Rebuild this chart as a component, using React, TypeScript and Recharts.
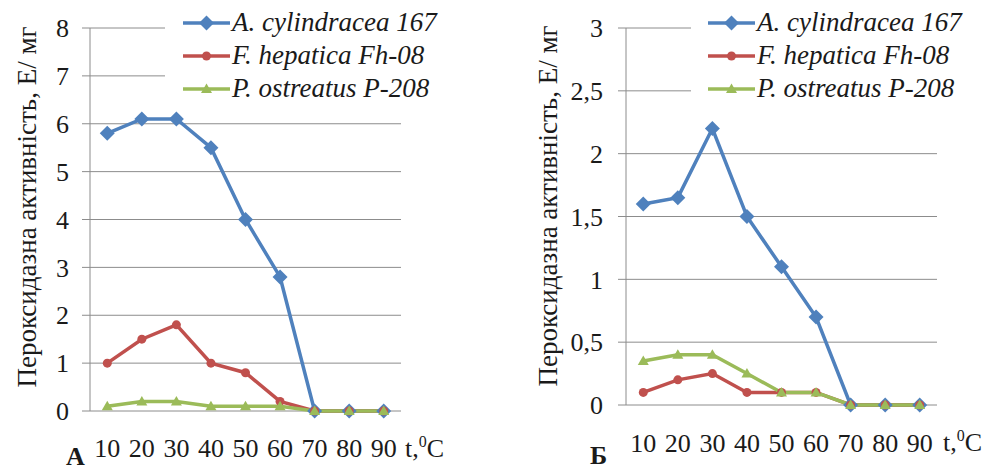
import React from 'react';
import { LineChart, Line, XAxis, YAxis, CartesianGrid } from 'recharts';

const temps = [10, 20, 30, 40, 50, 60, 70, 80, 90];
const tempEdges = [5, 15, 25, 35, 45, 55, 65, 75, 85, 95];
const seriesNames = ['A. cylindracea 167', 'F. hepatica Fh-08', 'P. ostreatus P-208'];

// chart A
const aCylA = [5.8, 6.1, 6.1, 5.5, 4.0, 2.8, 0, 0, 0];
const fHepA = [1.0, 1.5, 1.8, 1.0, 0.8, 0.2, 0, 0, 0];
const pOstA = [0.1, 0.2, 0.2, 0.1, 0.1, 0.1, 0, 0, 0];
const yTicksA = [0, 1, 2, 3, 4, 5, 6, 7, 8];

// chart Б
const aCylB = [1.6, 1.65, 2.2, 1.5, 1.1, 0.7, 0, 0, 0];
const fHepB = [0.1, 0.2, 0.25, 0.1, 0.1, 0.1, 0, 0, 0];
const pOstB = [0.35, 0.4, 0.4, 0.25, 0.1, 0.1, 0, 0, 0];
const yTicksB = [0, 0.5, 1, 1.5, 2, 2.5, 3];

const yTitle = 'Пероксидазна активність, Е/ мг';

const BLUE = '#4F81BD';
const RED = '#C0504D';
const GREEN = '#9BBB59';
const GRID = '#8c8c8c';
const INK = '#1a1a1a';
const FONT = '"Liberation Serif", Tinos, "Times New Roman", "DejaVu Serif", serif';

const rowsA = temps.map((t, i) => ({ t, a: aCylA[i], f: fHepA[i], p: pOstA[i] }));
const rowsB = temps.map((t, i) => ({ t, a: aCylB[i], f: fHepB[i], p: pOstB[i] }));

const diamond = (cx: number, cy: number, s = 7.5) =>
  `M${cx},${cy - s}L${cx + s},${cy}L${cx},${cy + s}L${cx - s},${cy}Z`;
const triangle = (cx: number, cy: number) =>
  `M${cx},${cy - 5.5}L${cx + 5.5},${cy + 4}L${cx - 5.5},${cy + 4}Z`;

const DiamondDot = (props: any) => (
  <path key={`d-${props.index}`} d={diamond(props.cx, props.cy)} fill={BLUE} />
);
const CircleDot = (props: any) => (
  <circle key={`c-${props.index}`} cx={props.cx} cy={props.cy} r={4.5} fill={RED} />
);
const TriangleDot = (props: any) => (
  <path key={`t-${props.index}`} d={triangle(props.cx, props.cy)} fill={GREEN} />
);

const markers = [DiamondDot, CircleDot, TriangleDot];
const colors = [BLUE, RED, GREEN];
const keys = ['a', 'f', 'p'];

function LegendBox({ left, width, pad, height }: { left: number; width: number; pad: number; height: number }) {
  return (
    <div
      style={{
        position: 'absolute',
        left,
        top: 0,
        width,
        height,
        background: '#fff',
        paddingLeft: pad,
        paddingTop: 6,
        boxSizing: 'border-box',
      }}
    >
      {seriesNames.map((name, i) => {
        const M = markers[i];
        return (
          <div key={name} style={{ display: 'flex', alignItems: 'center', height: 33 }}>
            <svg width={47} height={20} style={{ flex: 'none' }}>
              <line x1={0} y1={10} x2={47} y2={10} stroke={colors[i]} strokeWidth={3.5} />
              <M cx={23.5} cy={10} index={0} />
            </svg>
            <span
              style={{
                fontFamily: FONT,
                fontStyle: 'italic',
                fontSize: 27,
                color: INK,
                marginLeft: 2,
                whiteSpace: 'nowrap',
                lineHeight: 1,
              }}
            >
              {name}
            </span>
          </div>
        );
      })}
    </div>
  );
}

interface PanelProps {
  rows: { t: number; a: number; f: number; p: number }[];
  left: number;
  width: number;
  yAxisWidth: number;
  right: number;
  bottom: number;
  yTicks: number[];
  yMax: number;
  yTickMargin: number;
  xTickMargin: number;
}

function Panel(props: PanelProps) {
  const tickStyle = { fill: INK, fontSize: 26, fontFamily: FONT };
  return (
    <div style={{ position: 'absolute', left: props.left, top: 0 }}>
      <LineChart
        width={props.width}
        height={473}
        data={props.rows}
        margin={{ top: 28, right: props.right, bottom: props.bottom, left: 0 }}
      >
        <CartesianGrid vertical={false} stroke={GRID} strokeWidth={1} xAxisId="lab" />
        <XAxis
          xAxisId="edge"
          type="number"
          domain={[5, 95]}
          ticks={tempEdges}
          tick={false}
          height={0}
          tickSize={8}
          axisLine={{ stroke: GRID, strokeWidth: 1 }}
          tickLine={{ stroke: GRID, strokeWidth: 1 }}
        />
        <XAxis
          xAxisId="lab"
          type="number"
          dataKey="t"
          domain={[5, 95]}
          ticks={temps}
          height={30}
          axisLine={false}
          tickLine={false}
          tickSize={8}
          tickMargin={props.xTickMargin}
          tick={tickStyle}
          interval={0}
        />
        <YAxis
          type="number"
          domain={[0, props.yMax]}
          ticks={props.yTicks}
          width={props.yAxisWidth}
          tickSize={8}
          tickMargin={props.yTickMargin}
          axisLine={{ stroke: GRID, strokeWidth: 1 }}
          tickLine={{ stroke: GRID, strokeWidth: 1 }}
          tick={tickStyle}
          interval={0}
          tickFormatter={(v: number) => String(v).replace('.', ',')}
        />
        {keys.map((k, i) => (
          <Line
            key={k}
            xAxisId="lab"
            dataKey={k}
            stroke={colors[i]}
            strokeWidth={3.5}
            dot={markers[i]}
            activeDot={false}
            isAnimationActive={false}
          />
        ))}
      </LineChart>
    </div>
  );
}

function Rotated({ cx, cy }: { cx: number; cy: number }) {
  return (
    <div
      style={{
        position: 'absolute',
        left: cx,
        top: cy,
        transform: 'translate(-50%, -50%) rotate(-90deg)',
        fontFamily: FONT,
        fontSize: 27,
        color: INK,
        whiteSpace: 'nowrap',
        lineHeight: 1,
      }}
    >
      {yTitle}
    </div>
  );
}

function Unit({ left, top }: { left: number; top: number }) {
  return (
    <div
      style={{
        position: 'absolute',
        left,
        top,
        fontFamily: FONT,
        fontSize: 26,
        color: INK,
        lineHeight: 1,
        whiteSpace: 'nowrap',
      }}
    >
      t,<sup style={{ fontSize: 16, verticalAlign: 'top', position: 'relative', top: -2 }}>0</sup>C
    </div>
  );
}

function Letter({ left, top, text }: { left: number; top: number; text: string }) {
  return (
    <div
      style={{
        position: 'absolute',
        left,
        top,
        fontFamily: FONT,
        fontWeight: 'bold',
        fontSize: 26,
        color: INK,
        lineHeight: 1,
      }}
    >
      {text}
    </div>
  );
}

export default function App() {
  return (
    <div
      style={{
        position: 'absolute',
        left: 0,
        top: 0,
        width: 989,
        height: 473,
        background: '#fff',
        overflow: 'hidden',
      }}
    >
      <Panel
        rows={rowsA}
        left={0}
        width={420}
        yAxisWidth={90}
        right={19}
        bottom={32}
        yTicks={yTicksA}
        yMax={8}
        yTickMargin={13}
        xTickMargin={20}
      />
      <Panel
        rows={rowsB}
        left={520}
        width={469}
        yAxisWidth={106}
        right={52}
        bottom={38}
        yTicks={yTicksB}
        yMax={3}
        yTickMargin={15}
        xTickMargin={21}
      />
      <LegendBox left={165} width={275} pad={18} height={106} />
      <LegendBox left={691} width={298} pad={17} height={112} />
      <Rotated cx={27} cy={207} />
      <Rotated cx={548} cy={206} />
      <Unit left={405} top={436} />
      <Unit left={943} top={430} />
      <Letter left={66} top={444} text="А" />
      <Letter left={590} top={443} text="Б" />
    </div>
  );
}
